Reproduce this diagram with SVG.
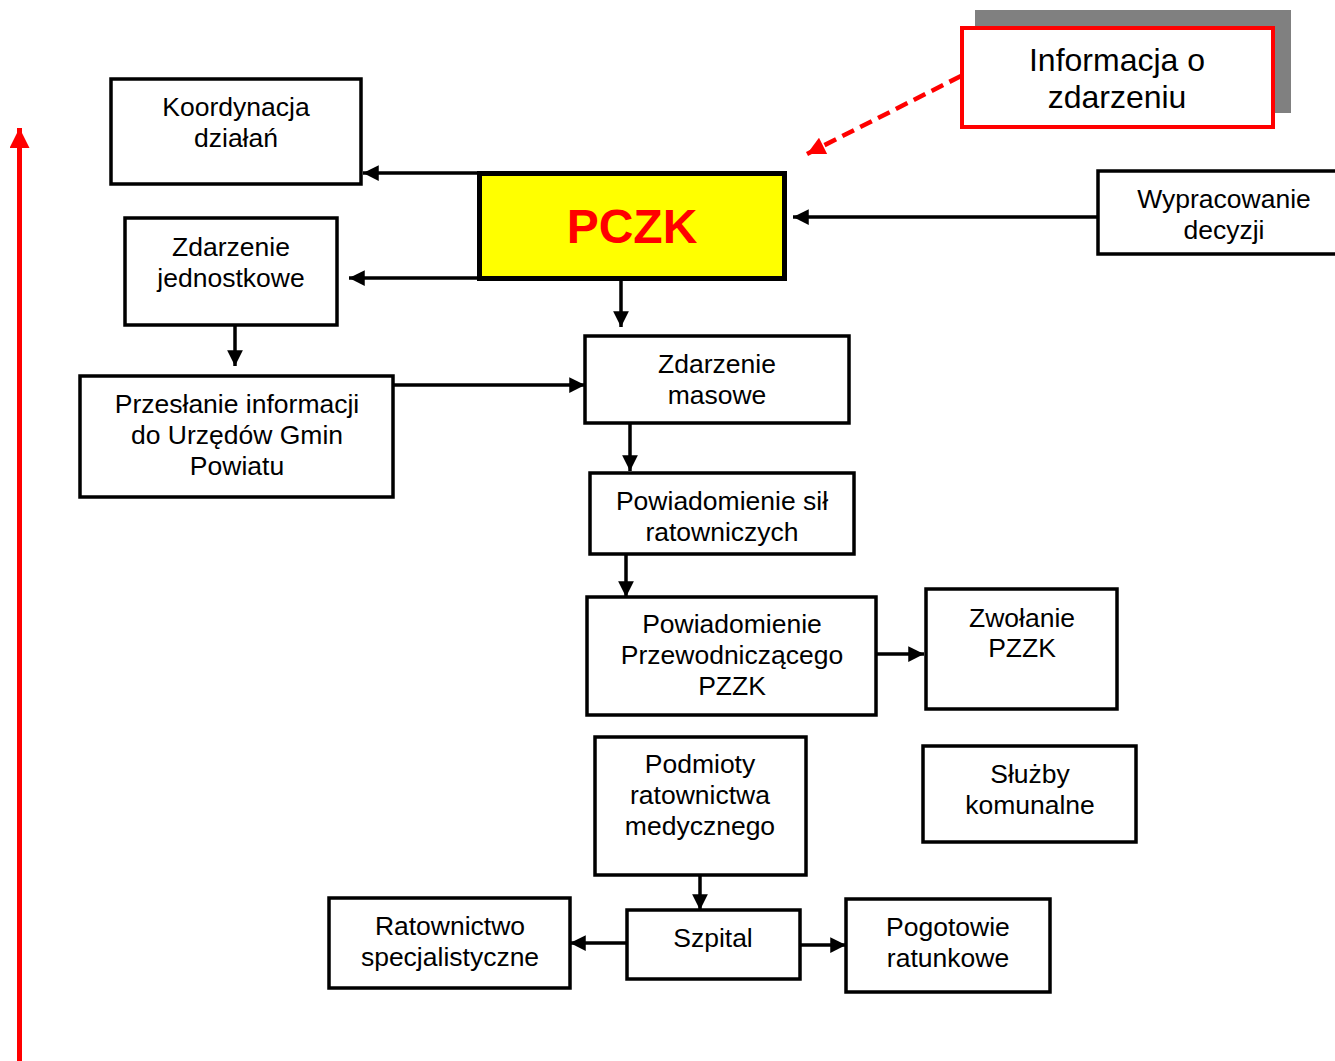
<svg xmlns="http://www.w3.org/2000/svg" width="1335" height="1061" viewBox="0 0 1335 1061">
<defs>
<marker id="ah" viewBox="0 0 10 10" refX="10" refY="5" markerWidth="5" markerHeight="4.5" markerUnits="strokeWidth" orient="auto"><path d="M0,0 L10,5 L0,10 z" fill="#000"/></marker>
<marker id="rh" viewBox="0 0 10 10" refX="10" refY="5" markerWidth="5" markerHeight="4" markerUnits="strokeWidth" orient="auto"><path d="M0,0 L10,5 L0,10 z" fill="#f00"/></marker>
</defs>
<style>
.b{fill:#fff;stroke:#000;stroke-width:3.5}
.t{font-family:"Liberation Sans",Arial,sans-serif;font-size:26.5px;fill:#000;text-anchor:middle}
.c{stroke:#000;stroke-width:3.5;fill:none;marker-end:url(#ah)}
</style>
<rect width="1335" height="1061" fill="#fff"/>
<g id="axis">
<line x1="19.5" y1="1061" x2="19.5" y2="128" stroke="#f00" stroke-width="5" marker-end="url(#rh)"/>
</g>
<g id="informacja">
<rect x="975" y="10" width="316" height="103" fill="#808080"/>
<rect x="962" y="28" width="311" height="99" fill="#fff" stroke="#f00" stroke-width="4"/>
<text class="t" x="1117" y="71" style="font-size:32px">Informacja o</text>
<text class="t" x="1117" y="108" style="font-size:32px">zdarzeniu</text>
</g>
<g id="koordynacja">
<rect class="b" x="111" y="79" width="250" height="105"/>
<text class="t" x="236" y="116">Koordynacja</text>
<text class="t" x="236" y="147">działań</text>
</g>
<g id="pczk">
<rect x="479.5" y="173.5" width="305" height="105" fill="#ff0" stroke="#000" stroke-width="5"/>
<text x="632" y="243" style="font-family:'Liberation Sans',Arial,sans-serif;font-size:48px;font-weight:bold;fill:#f00;text-anchor:middle">PCZK</text>
</g>
<g id="wypracowanie">
<rect class="b" x="1098" y="171" width="245" height="83"/>
<text class="t" x="1224" y="208">Wypracowanie</text>
<text class="t" x="1224" y="239">decyzji</text>
</g>
<g id="jednostkowe">
<rect class="b" x="125" y="218" width="212" height="107"/>
<text class="t" x="231" y="256">Zdarzenie</text>
<text class="t" x="231" y="287">jednostkowe</text>
</g>
<g id="przeslanie">
<rect class="b" x="80" y="376" width="313" height="121"/>
<text class="t" x="237" y="413">Przesłanie informacji</text>
<text class="t" x="237" y="444">do Urzędów Gmin</text>
<text class="t" x="237" y="475">Powiatu</text>
</g>
<g id="masowe">
<rect class="b" x="585" y="336" width="264" height="87"/>
<text class="t" x="717" y="373">Zdarzenie</text>
<text class="t" x="717" y="404">masowe</text>
</g>
<g id="sil">
<rect class="b" x="590" y="473" width="264" height="81"/>
<text class="t" x="722" y="510">Powiadomienie sił</text>
<text class="t" x="722" y="541">ratowniczych</text>
</g>
<g id="przewodniczacego">
<rect class="b" x="587" y="597" width="289" height="118"/>
<text class="t" x="732" y="633">Powiadomienie</text>
<text class="t" x="732" y="664">Przewodniczącego</text>
<text class="t" x="732" y="695">PZZK</text>
</g>
<g id="zwolanie">
<rect class="b" x="926" y="589" width="191" height="120"/>
<text class="t" x="1022" y="627">Zwołanie</text>
<text class="t" x="1022" y="657">PZZK</text>
</g>
<g id="podmioty">
<rect class="b" x="595" y="737" width="211" height="138"/>
<text class="t" x="700" y="773">Podmioty</text>
<text class="t" x="700" y="804">ratownictwa</text>
<text class="t" x="700" y="835">medycznego</text>
</g>
<g id="sluzby">
<rect class="b" x="923" y="746" width="213" height="96"/>
<text class="t" x="1030" y="783">Służby</text>
<text class="t" x="1030" y="814">komunalne</text>
</g>
<g id="szpital">
<rect class="b" x="627" y="910" width="173" height="69"/>
<text class="t" x="713" y="947">Szpital</text>
</g>
<g id="ratownictwo">
<rect class="b" x="329" y="898" width="241" height="90"/>
<text class="t" x="450" y="935">Ratownictwo</text>
<text class="t" x="450" y="966">specjalistyczne</text>
</g>
<g id="pogotowie">
<rect class="b" x="846" y="899" width="204" height="93"/>
<text class="t" x="948" y="936">Pogotowie</text>
<text class="t" x="948" y="967">ratunkowe</text>
</g>
<g id="connectors">
<line x1="961" y1="76" x2="807" y2="154" stroke="#f00" stroke-width="4.5" stroke-dasharray="13,7" marker-end="url(#rh)"/>
<line class="c" x1="479" y1="173" x2="363" y2="173"/>
<line class="c" x1="479" y1="278" x2="349" y2="278"/>
<line class="c" x1="621" y1="279" x2="621" y2="327"/>
<line class="c" x1="1098" y1="217" x2="793" y2="217"/>
<line class="c" x1="235" y1="325" x2="235" y2="366"/>
<line class="c" x1="393" y1="385" x2="585" y2="385"/>
<line class="c" x1="630" y1="423" x2="630" y2="471"/>
<line class="c" x1="626" y1="554" x2="626" y2="597"/>
<line class="c" x1="876" y1="654" x2="924" y2="654"/>
<line class="c" x1="700" y1="875" x2="700" y2="910"/>
<line class="c" x1="627" y1="943" x2="570" y2="943"/>
<line class="c" x1="800" y1="945" x2="846" y2="945"/>
</g>
</svg>
